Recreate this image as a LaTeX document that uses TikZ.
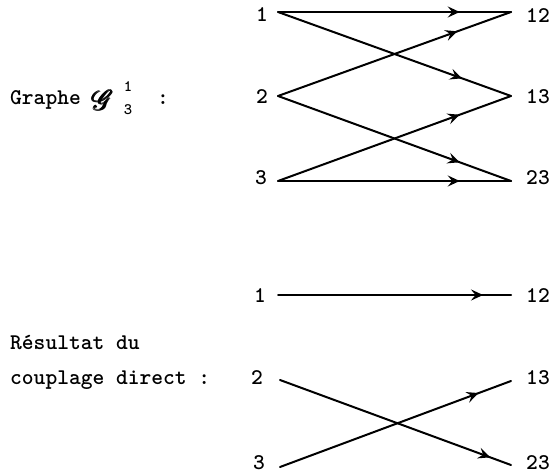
\documentclass[tikz,border=0pt]{standalone}
\usepackage{amsmath}
\usepackage{mathrsfs}
\usepackage{graphicx}
\usetikzlibrary{arrows.meta,decorations.markings}
\tikzset{
  lbl/.style={font=\fontsize{22.5}{26}\selectfont\ttfamily\bfseries, inner sep=0pt},
  txt/.style={font=\fontsize{22.5}{26}\selectfont\ttfamily\bfseries, inner sep=0pt, anchor=base west},
  small/.style={font=\fontsize{16}{18}\selectfont\ttfamily\bfseries, inner sep=0pt},
  edge/.style={line width=2bp, line cap=round},
  arr/.style={edge, postaction={decorate}, decoration={markings,
      mark=at position #1 with {\arrow{Stealth[length=12bp,width=11bp,inset=4.5bp]}}}},
}
\begin{document}
\begin{tikzpicture}[x=1bp,y=-1bp]
\useasboundingbox (0,0) rectangle (550,475);
% top graph
\node[txt] (t1) at (10,105) {Graphe};
\node[inner sep=0pt, font=\fontsize{20}{20}\selectfont] (g) at (103,100) {\scalebox{1.35}{$\pmb{\mathscr{G}}$}};
\node[small] (gsup) at (128,87) {1};
\node[small] (gsub) at (128,110) {3};
\node[txt] (gcol) at (157,105) {:};
\node[lbl] (l1) at (262,15) {1};
\node[lbl] (l2) at (262,97) {2};
\node[lbl] (l3) at (261,178) {3};
\node[lbl] (r12) at (538,16) {12};
\node[lbl] (r13) at (538,97) {13};
\node[lbl] (r23) at (538,178) {23};
\coordinate (a1) at (278,12);
\coordinate (a2) at (278,96);
\coordinate (a3) at (278,181);
\coordinate (b12) at (511,12);
\coordinate (b13) at (511,96);
\coordinate (b23) at (511,181);
\draw[arr=0.78] (a1) -- (b12);
\draw[arr=0.79] (a1) -- (b13);
\draw[arr=0.77] (a2) -- (b12);
\draw[arr=0.78] (a2) -- (b23);
\draw[arr=0.78] (a3) -- (b13);
\draw[arr=0.78] (a3) -- (b23);
% bottom graph
\node[txt] (t2) at (10,349) {R\'esultat du};
\node[txt] (t3) at (10,384) {couplage direct :};
\node[lbl] (m1) at (260,296) {1};
\node[lbl] (m2) at (257,378) {2};
\node[lbl] (m3) at (259,463) {3};
\node[lbl] (s12) at (538,296) {12};
\node[lbl] (s13) at (538,378) {13};
\node[lbl] (s23) at (538,463) {23};
\coordinate (c1) at (278,295);
\coordinate (c2) at (280,380);
\coordinate (c3) at (280,467);
\coordinate (d12) at (511,295);
\coordinate (d13) at (511,381);
\coordinate (d23) at (511,465);
\draw[arr=0.88] (c1) -- (d12);
\draw[arr=0.91] (c2) -- (d23);
\draw[arr=0.86] (c3) -- (d13);
\end{tikzpicture}
\end{document}
